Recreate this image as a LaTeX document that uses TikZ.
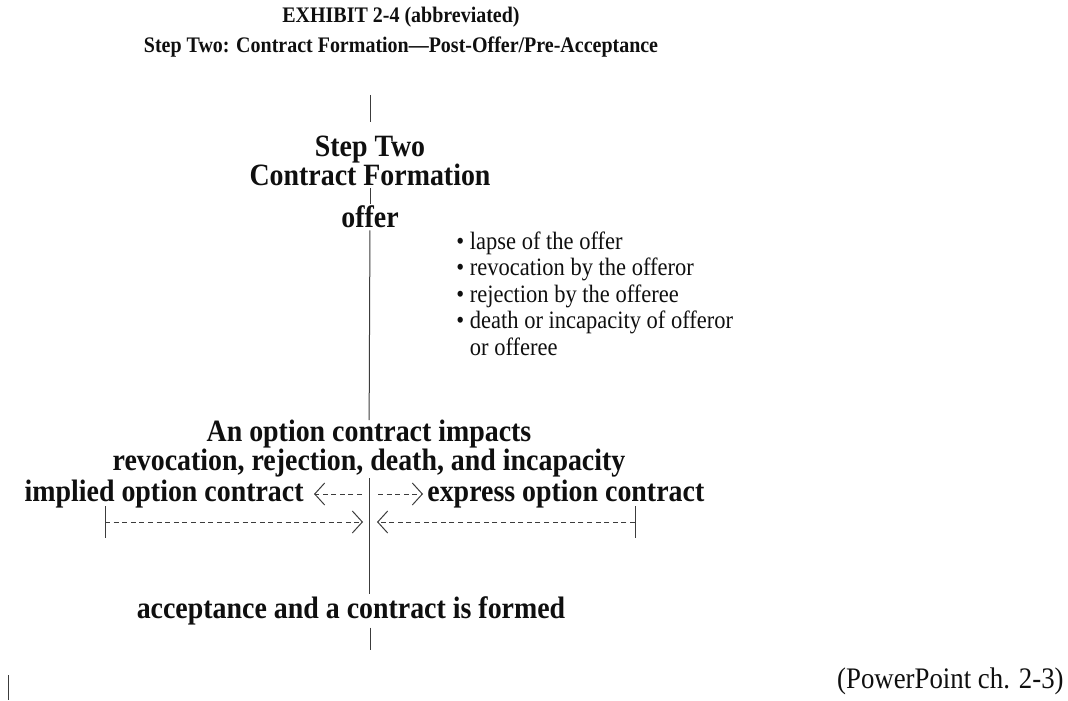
\documentclass[tikz,border=0pt]{standalone}
\usepackage{fontspec}
\setmainfont{Liberation Serif}[FakeStretch=0.9]
\usetikzlibrary{arrows.meta}
\definecolor{cl}{RGB}{60,60,60}
\definecolor{ct}{RGB}{15,15,15}
\tikzstyle{title}=[ct, font=\bfseries\fontsize{11.1}{12}\selectfont, inner sep=0pt]
\tikzstyle{heading}=[ct, font=\bfseries\fontsize{15.5}{14.5}\selectfont, align=center, inner xsep=2pt, inner ysep=1pt]
\tikzstyle{note}=[ct, font=\fontsize{12.5}{13.25}\selectfont, align=left, inner sep=0pt]
\tikzstyle{line}=[cl, line width=0.5pt]
\tikzstyle{arrow}=[line, dash pattern=on 2.5pt off 1.8pt, -{Straight Barb[length=5pt,width=11pt]}]

\begin{document}
\begin{tikzpicture}[x=0.5pt, y=-0.5pt]
  \useasboundingbox (0,0) rectangle (1068,700);
  \node [title] (title-1) at (401,17) {EXHIBIT 2-4 (abbreviated)};
  \node [title] (title-2) at (401,47) {Step Two: Contract Formation—Post-Offer/Pre-Acceptance};

  \coordinate (stem-top) at (370,95);
  \coordinate (stem-bot) at (370,122);
  \node [heading] (step) at (370,161) {Step Two\\Contract Formation};
  \node [heading] (offer) at (370,217) {offer};
  \node [note, anchor=north west] (reasons) at (456,231) {\textbullet\ lapse of the offer\\
    \textbullet\ revocation by the offeror\\
    \textbullet\ rejection by the offeree\\
    \textbullet\ death or incapacity of offeror\\
    \phantom{\textbullet}\ or offeree};
  \node [heading, inner ysep=0pt] (impact) at (369,449) {An option contract impacts\\revocation, rejection, death, and incapacity};

  \node [heading, inner ysep=0pt, anchor=east] (implied) at (308,494) {implied option contract};
  \node [heading, inner ysep=0pt, anchor=west] (express) at (423,494) {express option contract};
  \coordinate (split-l) at (362,494);
  \coordinate (split-r) at (378,494);

  \coordinate (tick-l) at (105,522);
  \coordinate (tick-r) at (635,522);
  \coordinate (meet-l) at (363,522);
  \coordinate (meet-r) at (377,522);

  \node [heading] (accept) at (351,611) {acceptance and a contract is formed};
  \coordinate (tail) at (370,650);

  \coordinate (edge-top) at (8,675);
  \coordinate (edge-bot) at (8,700);
  \node [note, anchor=east, font=\fontsize{14.9}{15}\selectfont] (source) at (1064,681) {(PowerPoint ch. 2-3)};

  \draw [line] (stem-top) -- (stem-bot);
  \draw [line] (step) -- (offer);
  \draw [line] (offer) -- (impact);
  \draw [line] (impact.south) -- (impact.south |- accept.north);
  \draw [line] (accept.south -| tail) -- (tail);
  \draw [line] (edge-top) -- (edge-bot);

  \draw [arrow, shorten >=3pt] (split-l) -- (implied.east);
  \draw [arrow] (split-r) -- (express.west);
  \draw [arrow] (tick-l) -- (meet-l);
  \draw [arrow] (tick-r) -- (meet-r);
  \draw [line] ([yshift=8pt]tick-l) -- ([yshift=-8pt]tick-l);
  \draw [line] ([yshift=8pt]tick-r) -- ([yshift=-8pt]tick-r);
\end{tikzpicture}
\end{document}
